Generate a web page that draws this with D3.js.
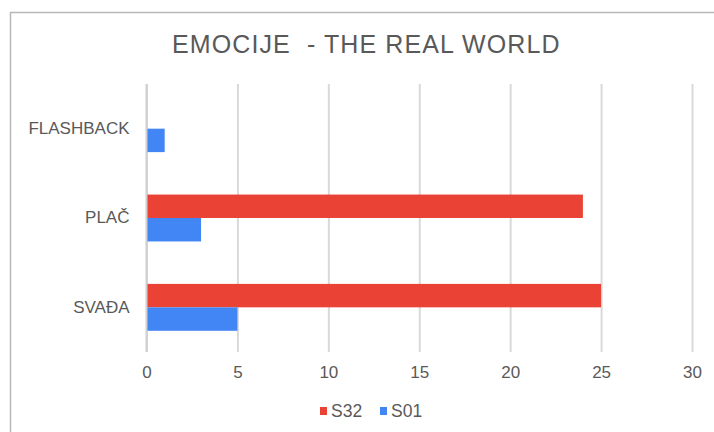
<!DOCTYPE html>
<html><head><meta charset="utf-8">
<script src="https://cdn.jsdelivr.net/npm/d3@7"></script>
<style>body{margin:0;background:#fff;}svg{display:block;font-family:"Liberation Sans",Arial,sans-serif;}</style>
</head><body>
<script>
const categories = ["FLASHBACK", "PLAČ", "SVAĐA"];
const seriesNames = ["S32", "S01"];
const s32 = [0, 24, 25];
const s01 = [1, 3, 5];
const xTicks = [0, 5, 10, 15, 20, 25, 30];
const colors = ["#EA4335", "#4285F4"];

const W = 714, H = 432;
const svg = d3.select("body").append("svg").attr("width", W).attr("height", H);
svg.append("rect").attr("x", 10.5).attr("y", 12.5).attr("width", W).attr("height", H)
  .attr("fill", "#fff").attr("stroke", "#b8b8b8").attr("stroke-width", 1.5);

svg.append("text").attr("x", 172).attr("y", 52.5).attr("text-anchor", "start")
  .attr("font-size", 25).attr("letter-spacing", 1.1).attr("fill", "#595959")
  .attr("xml:space", "preserve").style("white-space", "pre").text("EMOCIJE  - THE REAL WORLD");

const x = d3.scaleLinear().domain([0, 30]).range([146.5, 692]);
const y = d3.scaleBand().domain(categories).range([84, 352]).paddingInner(0.475).paddingOuter(0.2375);
const ySub = d3.scaleBand().domain(seriesNames).range([0, y.bandwidth()]);

const xAxis = svg.append("g").attr("transform", "translate(0,352)")
  .call(d3.axisBottom(x).tickValues(xTicks).tickSize(-268).tickPadding(14));
xAxis.select(".domain").remove();
xAxis.selectAll("line").attr("stroke", "#d9d9d9").attr("stroke-width", 2);
xAxis.selectAll("text").attr("font-size", 17).attr("fill", "#595959").attr("font-family", "Liberation Sans, Arial, sans-serif");

const data = categories.map((c, i) => ({cat: c, vals: [s32[i], s01[i]]}));
const g = svg.append("g");
data.forEach(d => {
  d.vals.forEach((v, j) => {
    if (v > 0) {
      g.append("rect").attr("x", x(0)).attr("y", y(d.cat) + ySub(seriesNames[j]))
        .attr("width", x(v) - x(0)).attr("height", ySub.bandwidth()).attr("fill", colors[j]);
    }
  });
});

const yAxis = svg.append("g").attr("transform", "translate(146.5,0)")
  .call(d3.axisLeft(y).tickSize(0).tickPadding(17));
yAxis.select(".domain").remove();
yAxis.selectAll("text").attr("font-size", 17).attr("fill", "#595959").attr("font-family", "Liberation Sans, Arial, sans-serif");

svg.append("line").attr("x1", 146.5).attr("x2", 146.5).attr("y1", 84).attr("y2", 352)
  .attr("stroke", "#d0d0d0").attr("stroke-width", 2);

const legend = svg.append("g");
const legX = [320, 380];
seriesNames.forEach((s, i) => {
  legend.append("rect").attr("x", legX[i]).attr("y", 407).attr("width", 7).attr("height", 8).attr("fill", colors[i]);
  legend.append("text").attr("x", legX[i] + 11).attr("y", 417).attr("font-size", 17.5).attr("fill", "#595959").text(s);
});
</script>
</body></html>
